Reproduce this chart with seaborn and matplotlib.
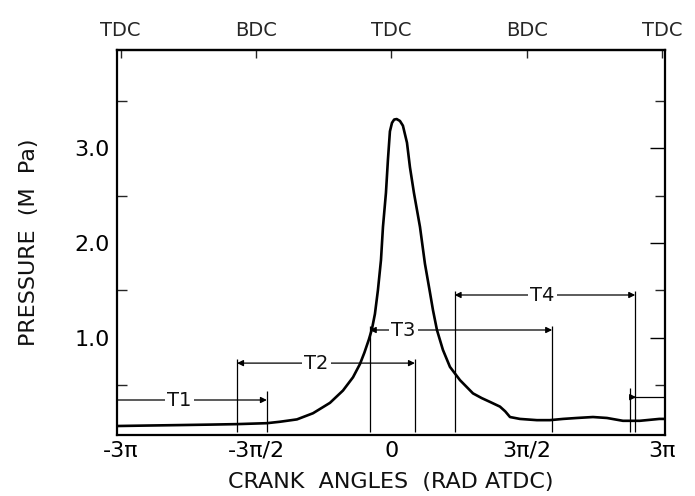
import numpy as np
import pandas as pd
import matplotlib
matplotlib.use("Agg")
import matplotlib.pyplot as plt
import seaborn as sns

# crank angle (in units of pi) and pressure (MPa)
angle_pi = [-3.04, -2.7, -2.34, -2.0, -1.711, -1.379, -1.235, -1.047, -0.869, -0.681,
            -0.537, -0.426, -0.349, -0.300, -0.250, -0.216, -0.183, -0.150, -0.116, -0.094,
            -0.061, -0.039, -0.017, 0.006, 0.030, 0.058, 0.094, 0.127, 0.172, 0.205,
            0.249, 0.316, 0.371, 0.426, 0.460, 0.504, 0.570, 0.648, 0.759, 0.903,
            1.00, 1.091, 1.202, 1.26, 1.313, 1.423, 1.611, 1.755, 1.90, 2.054, 2.232,
            2.387, 2.564, 2.75, 2.967, 3.03]
pressure = [0.065, 0.07, 0.075, 0.08, 0.085, 0.095, 0.11, 0.135, 0.20, 0.31,
            0.44, 0.58, 0.72, 0.84, 0.98, 1.09, 1.25, 1.50, 1.82, 2.17,
            2.53, 2.88, 3.18, 3.27, 3.305, 3.31, 3.29, 3.24, 3.06, 2.80,
            2.53, 2.17, 1.78, 1.48, 1.29, 1.08, 0.87, 0.69, 0.55, 0.41,
            0.36, 0.32, 0.27, 0.22, 0.16, 0.14, 0.127, 0.127, 0.14, 0.15, 0.16,
            0.15, 0.12, 0.12, 0.14, 0.14]

xtick_pi = [-3, -1.5, 0, 1.5, 3]
xtick_labels = ["-3\u03c0", "-3\u03c0/2", "0", "3\u03c0/2", "3\u03c0"]
top_labels = ["TDC", "BDC", "TDC", "BDC", "TDC"]
ytick_major = [1.0, 2.0, 3.0]
ytick_labels = ["1.0", "2.0", "3.0"]
ytick_minor = [0.5, 1.5, 2.5, 3.5]

# interval annotations: name, start (pi), end (pi), level (MPa), label x (pi)
intervals = ["T2", "T3", "T4"]
int_start = [-1.71, -0.24, 0.70]
int_end = [0.26, 1.78, 2.70]
int_level = [0.73, 1.08, 1.45]
int_label_x = [-0.83, 0.13, 1.67]
# T1 wraps around the cycle
t1_start, t1_end, t1_level, t1_label_x = 2.64, -1.38, 0.34, -2.35

XMIN, XMAX = -3.04 * np.pi, 3.03 * np.pi

sns.set_theme(style="white")
plt.rcParams["font.family"] = ["DejaVu Sans"]

fig = plt.figure(figsize=(6.95, 4.96), dpi=100)
ax = fig.add_axes([117 / 695, 1 - 435 / 496, (665 - 117) / 695, (435 - 50) / 496])

df = pd.DataFrame({"angle": np.array(angle_pi) * np.pi, "pressure": pressure})
sns.lineplot(data=df, x="angle", y="pressure", ax=ax, color="black", lw=1.9)

ax.set_xlim(XMIN, XMAX)
ax.set_ylim(-0.03, 4.04)

ax.set_xticks(np.array(xtick_pi) * np.pi)
ax.set_xticklabels(xtick_labels, fontsize=16)
ax.set_yticks(ytick_major)
ax.set_yticklabels(ytick_labels, fontsize=16)
ax.set_yticks(ytick_minor, minor=True)
ax.tick_params(axis="x", direction="in", length=5, width=1, pad=4, colors="black", top=False)
ax.tick_params(axis="y", which="major", direction="in", length=11, width=1, pad=5,
               right=True, colors="black")
ax.tick_params(axis="y", which="minor", direction="in", length=7, width=1, right=True,
               left=True)
for s in ax.spines.values():
    s.set_color("black")
    s.set_linewidth(1.6)

ax.set_xlabel("CRANK  ANGLES  (RAD ATDC)", fontsize=16, labelpad=8, color="#111111")
ax.set_ylabel("PRESSURE  (M  Pa)", fontsize=16, labelpad=26, color="#111111")

top = ax.secondary_xaxis("top")
top.set_xticks(np.array(xtick_pi) * np.pi)
top.set_xticklabels(top_labels, fontsize=14)
top.tick_params(direction="in", length=6, width=1, pad=7)
top.spines["top"].set_linewidth(1.6)

lw_a = 0.9
arrow_kw = dict(arrowstyle="-|>", color="black", lw=lw_a, mutation_scale=9,
                shrinkA=0, shrinkB=0)

# T2..T4
for name, a, b, lev, lx in zip(intervals, int_start, int_end, int_level, int_label_x):
    xa, xb = a * np.pi, b * np.pi
    ax.vlines([xa, xb], 0, lev + 0.04, color="black", lw=lw_a)
    xm = lx * np.pi
    ax.annotate("", xy=(xa, lev), xytext=(xm, lev), arrowprops=arrow_kw)
    ax.annotate("", xy=(xb, lev), xytext=(xm, lev), arrowprops=arrow_kw)
    ax.text(xm, lev, name, fontsize=14, ha="center", va="center", color="#111111",
            bbox=dict(facecolor="white", edgecolor="none", pad=1.5))

# T1 (wraps)
xs1, xe1 = t1_start * np.pi, t1_end * np.pi
ax.vlines([xs1], 0, t1_level + 0.13, color="black", lw=lw_a)
ax.vlines([xe1], 0, t1_level + 0.1, color="black", lw=lw_a)
ax.hlines(t1_level + 0.03, xs1, XMAX, color="black", lw=lw_a)
ax.annotate("", xy=(2.71 * np.pi, t1_level + 0.03), xytext=(xs1, t1_level + 0.03),
            arrowprops=arrow_kw)
ax.annotate("", xy=(xe1, t1_level), xytext=(XMIN, t1_level), arrowprops=arrow_kw)
ax.text(t1_label_x * np.pi, t1_level, "T1", fontsize=14, ha="center", va="center",
        color="#111111", bbox=dict(facecolor="white", edgecolor="none", pad=1.5))

fig.savefig("out.png", dpi=100, facecolor="white")
